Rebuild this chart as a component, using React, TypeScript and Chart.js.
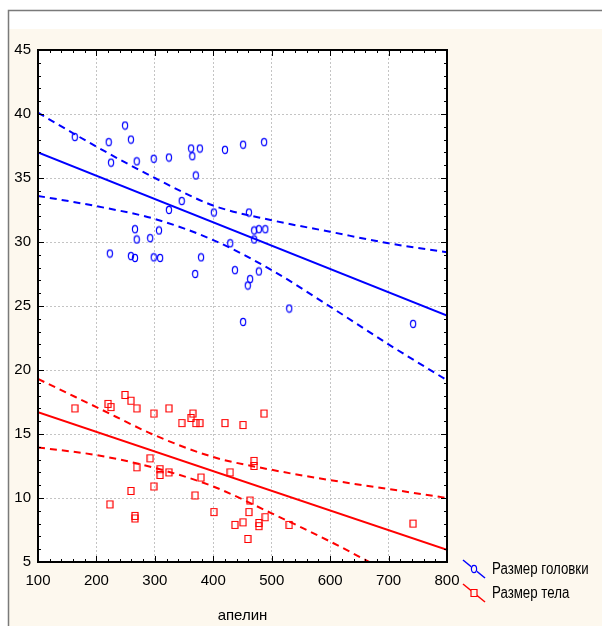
import React, { useEffect, useRef } from 'react';
import { Chart, registerables } from 'chart.js';

Chart.register(...registerables);

// ---- Data ----
const headX = [163, 221, 249, 259, 225, 269, 298, 324, 362, 377, 364, 370, 420, 451, 487, 346, 324, 401, 461, 266, 307, 269, 292, 223, 259, 266, 298, 309, 379, 429, 369, 437, 463, 459, 478, 470, 478, 489, 470, 451, 530, 742];
const headY = [38.2, 37.8, 39.1, 38.0, 36.2, 36.3, 36.5, 36.6, 37.3, 37.3, 36.7, 35.2, 37.2, 37.6, 37.8, 33.2, 32.5, 32.3, 32.3, 31.0, 30.9, 30.2, 30.3, 29.1, 28.9, 28.75, 28.8, 28.75, 28.8, 29.9, 27.5, 27.8, 27.1, 26.6, 27.7, 30.9, 31.0, 31.0, 30.2, 23.75, 24.8, 23.6];

const bodyX = [163, 220, 225, 249, 259, 269, 298, 324, 362, 365, 346, 370, 377, 420, 451, 487, 292, 269, 309, 309, 324, 379, 429, 470, 470, 298, 259, 369, 223, 266, 266, 401, 463, 461, 489, 451, 437, 478, 478, 459, 530, 742];
const bodyY = [17.0, 17.35, 17.1, 18.05, 17.6, 17.0, 16.6, 17.0, 16.25, 16.6, 15.85, 15.85, 15.85, 15.85, 15.7, 16.6, 13.1, 12.4, 12.25, 11.8, 12.0, 11.6, 12.0, 12.9, 12.5, 10.9, 10.55, 10.2, 9.5, 8.6, 8.4, 8.9, 9.8, 8.9, 8.5, 8.1, 7.9, 8.05, 7.8, 6.8, 7.9, 8.0];

const fitX = [100, 800];
const headFit = [37.0, 24.25];
const bodyFit = [16.7, 5.95];

const ciX = [100, 200, 300, 400, 500, 600, 700, 800];
const headUpper = [40.1, 37.45, 35.0, 32.85, 31.7, 30.8, 29.9, 29.2];
const headLower = [33.6, 32.8, 31.8, 30.15, 27.8, 24.95, 22.0, 19.2];
const bodyUpper = [19.3, 17.1, 14.9, 13.2, 12.2, 11.4, 10.7, 10.0];
const bodyLower = [13.95, 13.35, 12.35, 10.9, 8.8, 6.6, 4.2, 1.8];

const xMin = 100, xMax = 800, xStep = 100, xMinor = 20;
const yMin = 5, yMax = 45, yStep = 5, yMinor = 1;

const seriesLabels = ['Размер головки', 'Размер тела'];
const xTitle = 'апелин';

const BLUE = '#0000ff';
const RED = '#ff0000';
const FONT = "'Liberation Sans', Arial, sans-serif";

const pts = (xs: number[], ys: number[]) => xs.map((x, i) => ({ x, y: ys[i] }));

function makeMarker(kind: 'ellipse' | 'rect', color: string) {
  const c = document.createElement('canvas');
  c.width = 8;
  c.height = 10;
  const g = c.getContext('2d')!;
  g.strokeStyle = color;
  g.lineWidth = 1.2;
  g.beginPath();
  if (kind === 'ellipse') {
    g.ellipse(4, 5, 2.6, 3.6, 0, 0, Math.PI * 2);
  } else {
    g.rect(1, 1.5, 6, 7);
  }
  g.stroke();
  return c;
}

export default function App() {
  const ref = useRef<HTMLCanvasElement | null>(null);

  useEffect(() => {
    if (!ref.current) return;
    const circ = makeMarker('ellipse', BLUE);
    const sq = makeMarker('rect', RED);

    const framePlugin = {
      id: 'framePlugin',
      beforeDraw(chart: any) {
        const { ctx, width, height, chartArea: a } = chart;
        ctx.save();
        ctx.fillStyle = '#ffffff';
        ctx.fillRect(0, 0, width, height);
        ctx.fillStyle = '#fdf8ee';
        ctx.fillRect(9, 29, width - 9, height - 29);
        ctx.strokeStyle = '#7a7a7a';
        ctx.lineWidth = 1.5;
        ctx.beginPath();
        ctx.moveTo(8.5, height);
        ctx.lineTo(8.5, 10.5);
        ctx.lineTo(width, 10.5);
        ctx.stroke();
        ctx.fillStyle = '#ffffff';
        ctx.fillRect(a.left, a.top, a.right - a.left, a.bottom - a.top);
        ctx.restore();
      },
      afterDraw(chart: any) {
        const { ctx, chartArea: a } = chart;
        const xs = chart.scales.x;
        const ys = chart.scales.y;
        ctx.save();
        // ticks (inward)
        ctx.strokeStyle = '#000';
        ctx.lineWidth = 1;
        ctx.beginPath();
        for (let v = xMin; v <= xMax + 1e-6; v += xMinor) {
          const major = Math.abs((v - xMin) % xStep) < 1e-6;
          const len = major ? 6 : 3;
          const px = Math.round(xs.getPixelForValue(v)) + 0.5;
          ctx.moveTo(px, a.bottom);
          ctx.lineTo(px, a.bottom - len);
          ctx.moveTo(px, a.top);
          ctx.lineTo(px, a.top + len);
        }
        for (let v = yMin; v <= yMax + 1e-6; v += yMinor) {
          const major = Math.abs((v - yMin) % yStep) < 1e-6;
          const len = major ? 6 : 3;
          const py = Math.round(ys.getPixelForValue(v)) + 0.5;
          ctx.moveTo(a.left, py);
          ctx.lineTo(a.left + len, py);
          ctx.moveTo(a.right, py);
          ctx.lineTo(a.right - len, py);
        }
        ctx.stroke();
        // frame
        ctx.lineWidth = 2;
        ctx.strokeRect(a.left, a.top, a.right - a.left, a.bottom - a.top);

        // legend
        const items = [
          { color: BLUE, marker: circ, y: 569, label: seriesLabels[0] },
          { color: RED, marker: sq, y: 593, label: seriesLabels[1] },
        ];
        ctx.font = `16px ${FONT}`;
        ctx.textBaseline = 'middle';
        ctx.textAlign = 'left';
        for (const it of items) {
          ctx.strokeStyle = it.color;
          ctx.lineWidth = 1.5;
          ctx.beginPath();
          ctx.moveTo(463, it.y - 9);
          ctx.lineTo(485, it.y + 9);
          ctx.stroke();
          ctx.fillStyle = '#fdf8ee';
          ctx.fillRect(474 - 3, it.y - 4, 6, 8);
          ctx.drawImage(it.marker, 474 - 4, it.y - 5);
          ctx.save();
          ctx.translate(492, it.y + 1);
          ctx.scale(0.83, 1);
          ctx.fillStyle = '#000';
          ctx.fillText(it.label, 0, 0);
          ctx.restore();
        }
        ctx.restore();
      },
    };

    const lineDs = (label: string, xs: number[], ys: number[], color: string, dashed: boolean) => ({
      label,
      data: pts(xs, ys),
      showLine: true,
      borderColor: color,
      borderWidth: 2,
      borderDash: dashed ? [7, 5] : [],
      pointRadius: 0,
      pointHoverRadius: 0,
      fill: false,
      cubicInterpolationMode: 'monotone' as const,
    });

    const chart = new Chart(ref.current, {
      type: 'scatter',
      data: {
        datasets: [
          lineDs('fitHead', fitX, headFit, BLUE, false),
          lineDs('upHead', ciX, headUpper, BLUE, true),
          lineDs('loHead', ciX, headLower, BLUE, true),
          lineDs('fitBody', fitX, bodyFit, RED, false),
          lineDs('upBody', ciX, bodyUpper, RED, true),
          lineDs('loBody', ciX, bodyLower, RED, true),
          {
            label: seriesLabels[0],
            data: pts(headX, headY),
            pointStyle: circ as any,
            pointRadius: 3.5,
            borderColor: BLUE,
            backgroundColor: BLUE,
          },
          {
            label: seriesLabels[1],
            data: pts(bodyX, bodyY),
            pointStyle: sq as any,
            pointRadius: 3.5,
            borderColor: RED,
            backgroundColor: RED,
          },
        ],
      },
      options: {
        animation: false,
        responsive: false,
        devicePixelRatio: 1,
        layout: { padding: { left: 8, right: 155, top: 50, bottom: 0 } },
        plugins: {
          legend: { display: false },
          tooltip: { enabled: false },
        },
        events: [],
        scales: {
          x: {
            type: 'linear',
            min: xMin,
            max: xMax,
            ticks: {
              stepSize: xStep,
              color: '#000',
              padding: 10,
              font: { family: FONT, size: 15 },
              maxRotation: 0,
            },
            grid: { color: '#c4c4c4', lineWidth: 1, drawTicks: false },
            border: { display: false, dash: [2, 2] },
            title: {
              display: true,
              text: xTitle,
              color: '#000',
              font: { family: FONT, size: 15 },
              padding: { top: 0, bottom: 1 },
            },
            afterFit: (s: any) => {
              s.height = 64;
            },
          },
          y: {
            type: 'linear',
            min: yMin,
            max: yMax,
            ticks: {
              stepSize: yStep,
              color: '#000',
              padding: 7,
              font: { family: FONT, size: 15 },
            },
            grid: { color: '#c4c4c4', lineWidth: 1, drawTicks: false },
            border: { display: false, dash: [2, 2] },
            afterFit: (s: any) => {
              s.width = 30;
            },
          },
        },
      },
      plugins: [framePlugin],
    } as any);

    return () => chart.destroy();
  }, []);

  return (
    <div style={{ position: 'fixed', left: 0, top: 0, width: 602, height: 626 }}>
      <canvas ref={ref} width={602} height={626} style={{ display: 'block', width: 602, height: 626 }} />
    </div>
  );
}
